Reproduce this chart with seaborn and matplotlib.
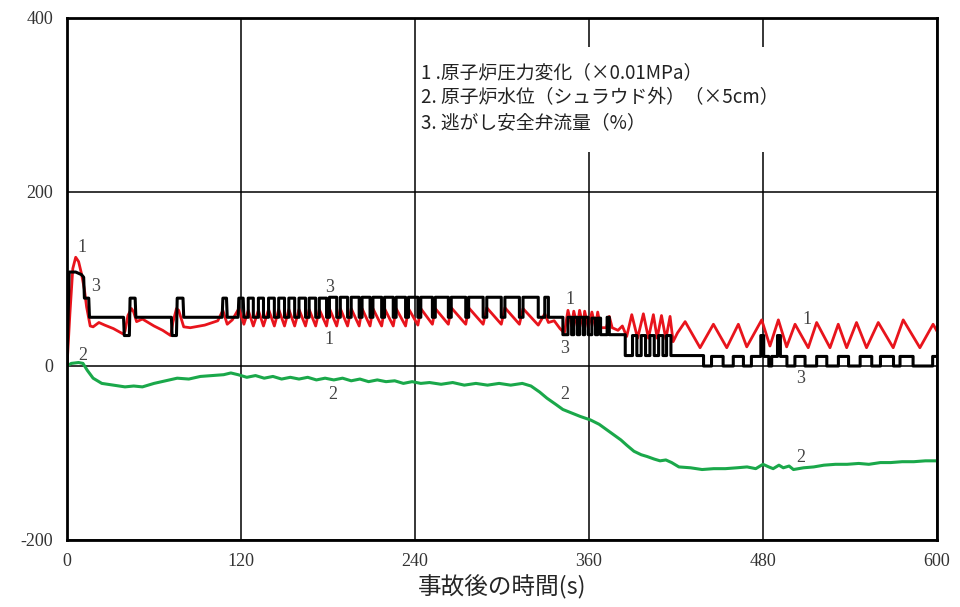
import pandas as pd
import matplotlib.pyplot as plt
import matplotlib.patches as mpatches
import seaborn as sns

# series: (time s, value)
# 1: reactor pressure change (x0.01MPa)
pressure = [
    (0, 0), (2, 60), (4, 112), (6, 125), (8, 120), (10, 106), (12, 88), (13.5, 68), (16, 46),
    (18, 45), (22, 50), (26, 47), (32, 43), (38.5, 37), (40, 40), (42, 58), (44.5, 66), (46, 62),
    (48, 51), (52, 54), (60, 46), (66, 41), (71.5, 35), (73, 50), (75.5, 66), (77, 64), (80.5, 45),
    (85, 44), (95, 47), (104, 52), (107.5, 64), (110.5, 48), (114, 53), (118.5, 66), (122, 48),
    (125, 64), (128.5, 46), (132, 64), (135.5, 46), (139, 65), (143, 46), (146, 65), (150, 46),
    (153, 65), (157, 46), (160, 65), (164.5, 46), (167, 65), (171.5, 46), (174, 65), (179, 46),
    (181, 66), (186, 46), (188.5, 66), (193.5, 46), (196, 66), (201.5, 46), (203.5, 66), (209, 46),
    (211, 66), (217, 46), (219, 66), (225, 46), (227, 66), (233.5, 46), (235.5, 66), (242, 47),
    (244, 66), (252, 48), (254, 66), (263, 48), (265, 67), (275, 48), (277, 67), (287, 48),
    (289.5, 67), (299.5, 48), (302, 67), (312, 48), (314.5, 66), (325, 47), (329.5, 60), (332, 50),
    (336, 52), (340, 43), (343, 38), (345.5, 64), (348, 46), (349.5, 63), (352, 45), (353.5, 64),
    (356, 45), (357, 63), (359.5, 44), (362, 62), (364.5, 44), (366, 62), (368, 44), (372, 44),
    (374, 57), (376, 44), (380, 41), (383, 46), (386, 34), (389.5, 59), (393.5, 32), (397.5, 60),
    (401, 32), (404.4, 59), (407, 32), (410, 58), (413, 31), (415.9, 57), (418, 28), (421, 38),
    (426.3, 51), (436.6, 21), (445.8, 48), (455, 21), (463, 48), (468.8, 22), (479.1, 53),
    (484.8, 23), (490.6, 53), (496.3, 22), (502.1, 48), (511.2, 21), (517, 50), (526.2, 21),
    (531.9, 48), (537.7, 21), (544.5, 50), (551.4, 21), (559.5, 50), (569.8, 21), (576.7, 53),
    (588.2, 21), (597.3, 48), (600, 40),
]

# 2: reactor water level outside shroud (x5cm)
level = [
    (0, 0), (3, 3), (8, 4), (11, 3), (14, -5), (18, -14), (24, -20), (32, -22), (40, -24),
    (46, -23), (52, -24), (60, -20), (68, -17), (76, -14), (84, -15), (92, -12), (100, -11),
    (108, -10), (113, -8), (118, -10), (124, -13), (130, -11), (136, -14), (142, -12), (148, -15),
    (154, -13), (160, -15), (166, -13), (172, -16), (178, -14), (184, -16), (190, -14), (196, -17),
    (202, -15), (208, -18), (214, -16), (220, -18), (226, -17), (232, -20), (238, -18), (244, -20),
    (250, -19), (258, -21), (266, -19), (274, -22), (282, -20), (290, -22), (298, -20), (306, -22),
    (314, -20), (320, -23), (326, -30), (331, -37), (337, -44), (342, -50), (348, -54), (354, -58),
    (361, -62), (367, -67), (372, -73), (377, -79), (382, -85), (386, -91), (391, -98), (396, -102),
    (400, -104), (405, -107), (409, -109), (413, -108), (417, -111), (422, -116), (430, -117),
    (438, -119), (446, -118), (454, -118), (462, -117), (469, -116), (475, -118), (480, -113),
    (484, -116), (487, -118), (491, -114), (494, -117), (498, -115), (501, -119), (508, -117),
    (515, -116), (522, -114), (530, -113), (538, -113), (546, -112), (553, -113), (561, -111),
    (568, -111), (576, -110), (584, -110), (592, -109), (600, -109),
]

# 3: safety relief valve flow (%)
srv = [
    (0, 0), (1.5, 108), (6, 108), (10, 105), (11.5, 102), (12, 78), (15, 78), (15.5, 56),
    (39, 56), (39.5, 35), (43, 35), (43.5, 78), (47, 78), (47.5, 56),
    (72, 56), (72.5, 35), (75.5, 35), (76, 78), (80, 78), (80.5, 56),
    (107, 56), (107.5, 78), (110, 78), (110.5, 56),
    (118, 56), (118.5, 78), (121.5, 78), (122, 56),
    (125, 56), (125, 78), (128.5, 78), (128.5, 56),
    (132, 56), (132, 78), (135.5, 78), (135.5, 56),
    (139, 56), (139, 78), (143, 78), (143, 56),
    (146, 56), (146, 78), (150, 78), (150, 56),
    (153, 56), (153, 78), (157, 78), (157, 56),
    (160, 56), (160, 78), (164.5, 78), (164.5, 56),
    (167, 56), (167, 78), (171.5, 78), (171.5, 56),
    (174, 56), (174, 78), (179, 78), (179, 56),
    (181, 56), (181, 79), (186, 79), (186, 56),
    (188.5, 56), (188.5, 79), (193.5, 79), (193.5, 56),
    (196, 56), (196, 79), (201.5, 79), (201.5, 56),
    (203.5, 56), (203.5, 79), (209, 79), (209, 56),
    (211, 56), (211, 79), (217, 79), (217, 56),
    (219, 56), (219, 79), (225, 79), (225, 56),
    (227, 56), (227, 79), (233.5, 79), (233.5, 56),
    (235.5, 56), (235.5, 79), (242, 79), (242, 56),
    (244, 56), (244, 79), (252, 79), (252, 56),
    (254, 56), (254, 79), (263, 79), (263, 56),
    (265, 56), (265, 79), (275, 79), (275, 56),
    (277, 56), (277, 79), (287, 79), (287, 56),
    (289.5, 56), (289.5, 79), (299.5, 79), (299.5, 56),
    (302, 56), (302, 79), (312, 79), (312, 56),
    (314.5, 56), (314.5, 79), (325, 79), (325, 56),
    (329.5, 56), (329.5, 79), (332, 79), (332, 56),
    (342, 56), (342, 36),
    (345.5, 36), (345.5, 56), (348, 56), (348, 36),
    (349.5, 36), (349.5, 56), (352, 56), (352, 36),
    (353.5, 36), (353.5, 56), (356, 56), (356, 36),
    (357, 36), (357, 56), (359.5, 56), (359.5, 36),
    (362, 36), (362, 55), (364.5, 55), (364.5, 36),
    (366, 36), (366, 55), (368, 55), (368, 36),
    (372.5, 36), (372.5, 56), (374, 56), (374, 36),
    (385, 36), (385, 12),
    (390, 12), (390, 35), (393, 35), (393, 12),
    (396, 12), (396, 35), (399, 35), (399, 12),
    (402, 12), (402, 35), (405, 35), (405, 12),
    (408, 12), (408, 35), (411, 35), (411, 12),
    (413.5, 12), (413.5, 35), (416.5, 35), (416.5, 12),
    (439, 12), (439, 0),
    (444.5, 0), (444.5, 11), (452.5, 11), (452.5, 0),
    (459.5, 0), (459.5, 11), (466.5, 11), (466.5, 0),
    (472, 0), (472, 11), (478.5, 11), (478.5, 35), (480.5, 35), (480.5, 11), (484, 11), (484, 0),
    (486, 0), (486, 11), (490, 11), (490, 35), (492, 35), (492, 11), (496.5, 11), (496.5, 0),
    (502, 0), (502, 11), (509, 11), (509, 0),
    (517, 0), (517, 11), (524, 11), (524, 0),
    (532, 0), (532, 11), (539, 11), (539, 0),
    (547, 0), (547, 11), (555, 11), (555, 0),
    (561, 0), (561, 11), (570, 11), (570, 0),
    (574.5, 0), (574.5, 11), (583.5, 11), (583.5, 0),
    (597, 0), (597, 11), (600, 11),
]

# curve number labels placed on the chart
curve_labels = [
    ("1", 10.5, 136), ("3", 19.5, 91), ("2", 11, 12),
    ("3", 181, 90), ("1", 181, 30), ("2", 183, -33),
    ("1", 347, 76), ("3", 343, 20), ("2", 343, -33),
    ("1", 510, 54), ("3", 506, -14), ("2", 506, -105),
]

legend_lines = [
    "1 .原子炉圧力変化（×0.01MPa）",
    "2. 原子炉水位（シュラウド外）（×5cm）",
    "3. 逃がし安全弁流量（%）",
]

x_ticks = [0, 120, 240, 360, 480, 600]
y_ticks = [-200, 0, 200, 400]

sns.set_style("white")
plt.rcParams['font.family'] = ['Liberation Serif', 'Noto Sans CJK JP', 'DejaVu Sans']
plt.rcParams['axes.unicode_minus'] = False

df1 = pd.DataFrame(pressure, columns=['t', 'v'])
df2 = pd.DataFrame(level, columns=['t', 'v'])
df3 = pd.DataFrame(srv, columns=['t', 'v'])

fig = plt.figure(figsize=(9.6, 6.07), dpi=100)
ax = fig.add_axes([67 / 960, 1 - 540 / 607, 870 / 960, 522 / 607])

sns.lineplot(data=df2, x='t', y='v', ax=ax, color='#1aa84a', lw=2.2, estimator=None, sort=False)
sns.lineplot(data=df1, x='t', y='v', ax=ax, color='#e8141c', lw=2.0, estimator=None, sort=False)
sns.lineplot(data=df3, x='t', y='v', ax=ax, color='black', lw=2.2, estimator=None, sort=False)

ax.set_xlim(0, 600)
ax.set_ylim(-200, 400)
ax.set_xticks(x_ticks)
ax.set_yticks(y_ticks)
ax.grid(True, color='black', lw=1.1)
ax.set_axisbelow(True)
for s in ax.spines.values():
    s.set_visible(True)
    s.set_color('black')
    s.set_linewidth(2.0)
ax.tick_params(length=0, labelsize=13, labelcolor='#333333')
ax.tick_params(axis='y', pad=10)
ax.tick_params(axis='x', pad=9)
ax.set_ylabel('')
ax.set_xlabel('事故後の時間(s)', fontsize=17, family=['Noto Sans CJK JP'], labelpad=4)

# white area behind the legend text breaks the grid lines
ax.add_patch(mpatches.Rectangle((250, 246), 270, 121, facecolor='white', edgecolor='none', zorder=1))
for i, line in enumerate(legend_lines):
    ax.text(244, 337 - i * 28.5, line, fontsize=13.5, va='center', ha='left',
            family=['Noto Sans CJK JP'], color='#222222', zorder=3)

for txt, tx, ty in curve_labels:
    ax.text(tx, ty, txt, fontsize=13, ha='center', va='center', color='#444444', zorder=4)

fig.savefig('out.png', dpi=100)
